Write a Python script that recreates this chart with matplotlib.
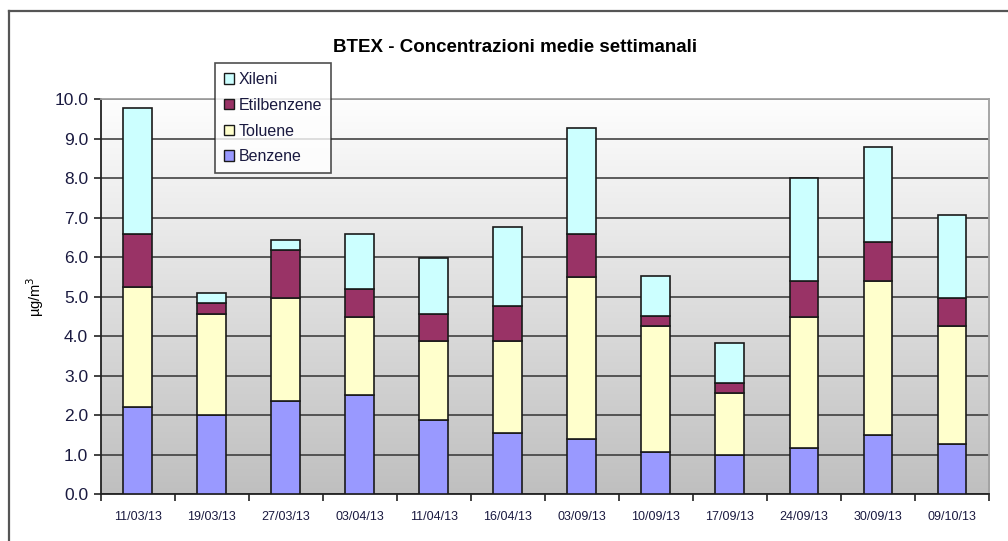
import matplotlib
matplotlib.use("Agg")
import matplotlib.pyplot as plt
import numpy as np
from matplotlib.lines import Line2D
from matplotlib.patches import Patch

plt.rcParams["font.family"] = ["Liberation Sans", "DejaVu Sans"]

dates = ["11/03/13", "19/03/13", "27/03/13", "03/04/13", "11/04/13", "16/04/13",
         "03/09/13", "10/09/13", "17/09/13", "24/09/13", "30/09/13", "09/10/13"]
benzene = [2.20, 2.00, 2.37, 2.50, 1.88, 1.56, 1.39, 1.08, 0.99, 1.18, 1.49, 1.28]
toluene = [3.05, 2.55, 2.60, 1.99, 2.01, 2.33, 4.10, 3.19, 1.58, 3.31, 3.90, 2.99]
etilbenzene = [1.33, 0.28, 1.22, 0.70, 0.66, 0.87, 1.09, 0.25, 0.25, 0.91, 0.98, 0.70]
xileni = [3.18, 0.25, 0.25, 1.39, 1.43, 1.99, 2.69, 1.01, 1.00, 2.60, 2.41, 2.10]

series = [("Benzene", benzene, "#9999ff"),
          ("Toluene", toluene, "#ffffcc"),
          ("Etilbenzene", etilbenzene, "#993366"),
          ("Xileni", xileni, "#ccffff")]

W, H = 1008, 541
fig = plt.figure(figsize=(W / 100, H / 100), dpi=100)
fig.patch.set_facecolor("white")

# plot area in pixel coordinates of the reference
x0, x1, y_top, y_bot = 100.7, 989, 99, 494.3
ax = fig.add_axes([x0 / W, (H - y_bot) / H, (x1 - x0) / W, (y_bot - y_top) / H])

# outer frame (top and left edges visible)
fig.add_artist(Line2D([9 / W, 1.0], [1 - 11 / H, 1 - 11 / H], transform=fig.transFigure,
                      color="#555555", lw=1.6))
fig.add_artist(Line2D([9 / W, 9 / W], [0, 1 - 11 / H], transform=fig.transFigure,
                      color="#555555", lw=1.6))

# gradient background
grad = np.linspace(1.0, 0.0, 256).reshape(-1, 1)
top_c = np.array([0.995, 0.995, 0.995])
bot_c = np.array([0.75, 0.75, 0.75])
img = grad[..., None] * top_c + (1 - grad[..., None]) * bot_c
ax.imshow(img, extent=[0, 1, 0, 1], transform=ax.transAxes, aspect="auto", zorder=0)

x = np.arange(len(dates))
bottom = np.zeros(len(dates))
for name, vals, col in series:
    ax.bar(x, vals, width=0.39, bottom=bottom, color=col, edgecolor="#1a1a1a",
           linewidth=1.2, zorder=3)
    bottom += np.array(vals)

ax.set_xlim(-0.5, len(dates) - 0.5)
ax.set_ylim(0, 10)
ax.set_yticks(np.arange(0, 10.5, 1.0))
ax.set_yticklabels([f"{v:.1f}" for v in np.arange(0, 10.5, 1.0)])
ax.yaxis.grid(True, color="#333333", lw=1.1, zorder=1)
ax.set_axisbelow(True)

ax.set_xticks(np.arange(-0.5, len(dates), 1.0))
ax.set_xticklabels([])
ax.set_xticks(x, minor=True)
ax.set_xticklabels(dates, minor=True)
ax.tick_params(axis="x", which="major", direction="out", length=5, width=1.2, color="#222222")
ax.tick_params(axis="x", which="minor", length=0, pad=12, labelsize=9, labelcolor="#1a1a40")
ax.tick_params(axis="y", direction="out", length=5, width=1.2, color="#222222",
               labelsize=12.5, labelcolor="#1a1a40", pad=4)

for s in ("left", "bottom"):
    ax.spines[s].set_color("#222222")
    ax.spines[s].set_linewidth(1.3)
for s in ("top", "right"):
    ax.spines[s].set_color("#a0a0a0")
    ax.spines[s].set_linewidth(1.3)

ax.set_ylabel("µg/m$^3$", fontsize=10.5, labelpad=6)

fig.text(515 / W, 1 - 47 / H, "BTEX - Concentrazioni medie settimanali",
         ha="center", va="center", fontsize=13.5, fontweight="bold")

handles = [Patch(facecolor=col, edgecolor="#1a1a1a", lw=1.0, label=name)
           for name, _, col in reversed(series)]
leg = fig.legend(handles=handles, loc="upper left",
                 bbox_to_anchor=(215 / W, 1 - 63 / H), fontsize=11.5,
                 frameon=True, fancybox=False, handlelength=0.65, handleheight=0.65,
                 handletextpad=0.3, labelspacing=0.68, borderpad=0.55,
                 borderaxespad=0)
leg.get_frame().set_edgecolor("#222222")
leg.get_frame().set_linewidth(1.2)
for t in leg.get_texts():
    t.set_color("#1a1a40")

fig.savefig("out.png", dpi=100)
